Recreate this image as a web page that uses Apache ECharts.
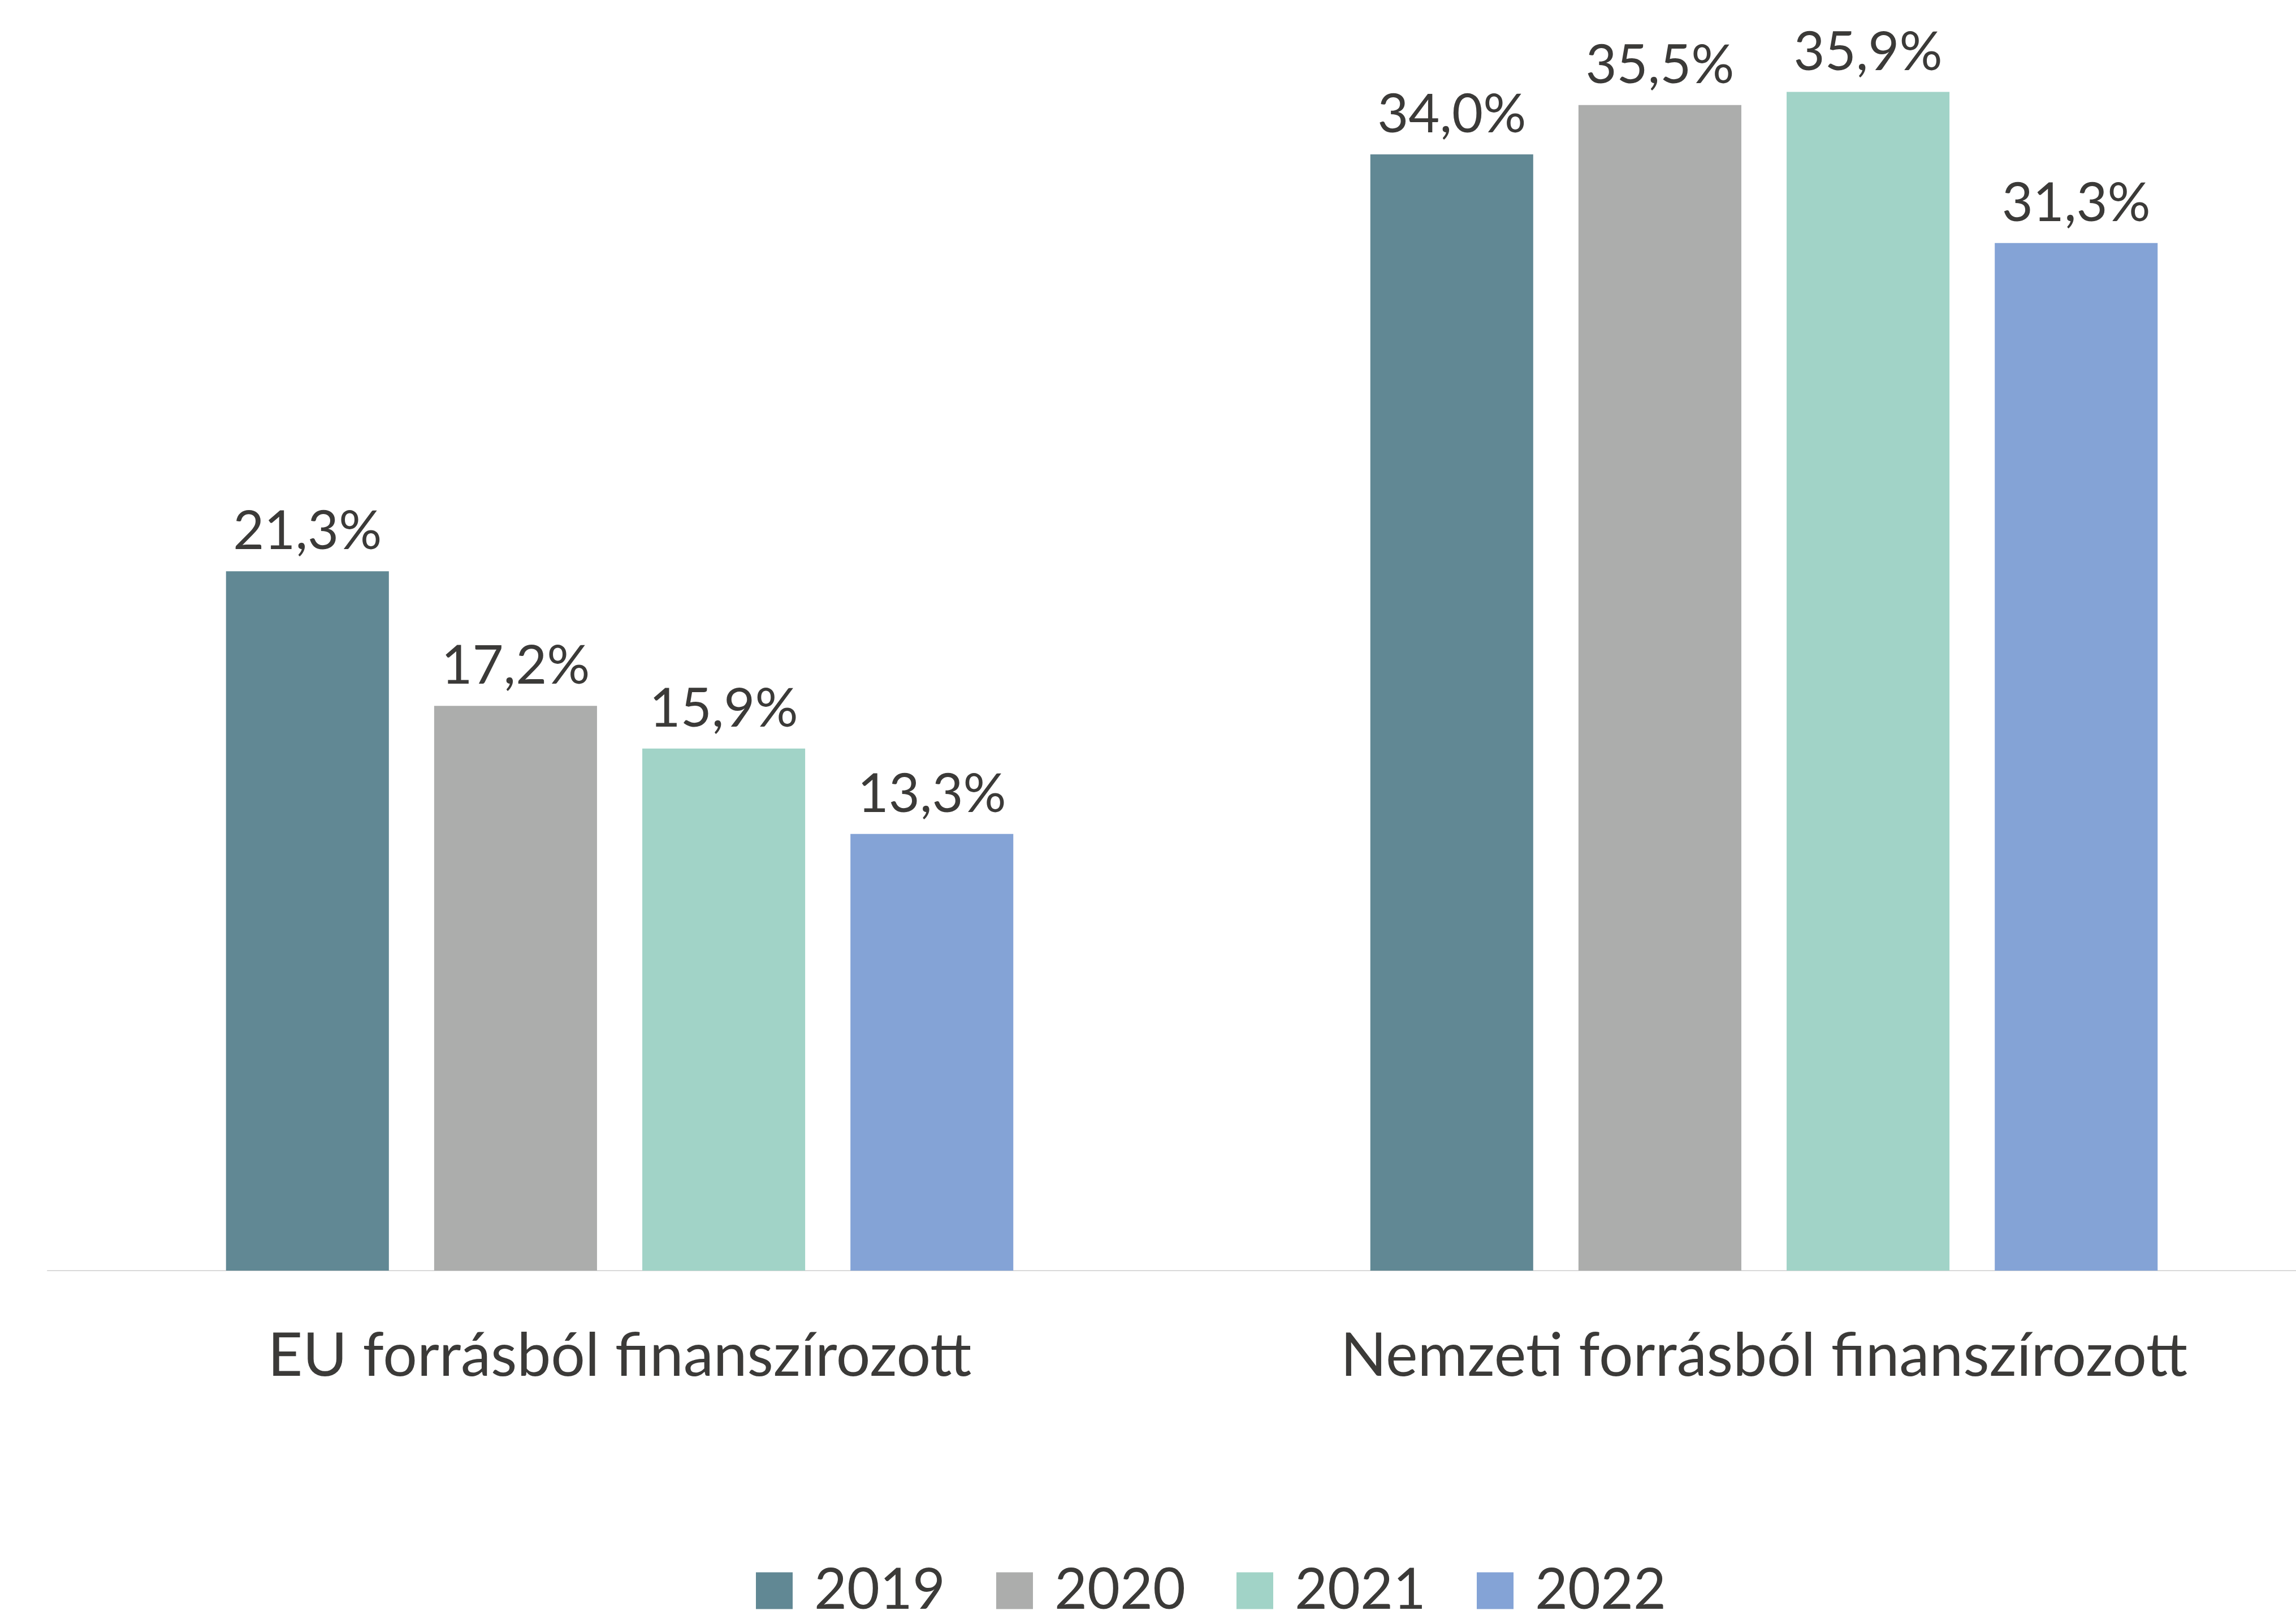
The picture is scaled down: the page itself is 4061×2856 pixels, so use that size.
<!DOCTYPE html>
<html>
<head>
<meta charset="utf-8">
<title>Finanszírozás</title>
<script src="https://cdn.jsdelivr.net/npm/echarts@6/dist/echarts.min.js"></script>
<style>
  html, body { margin: 0; padding: 0; background: #fff; }
  #chart { width: 4061px; height: 2856px; }
</style>
</head>
<body>
<div id="chart"></div>
<script>
// kategóriák és évenkénti értékek (%)
const categories = ['EU forrásból finanszírozott', 'Nemzeti forrásból finanszírozott']
const years = ['2019', '2020', '2021', '2022']
const v2019 = [21.3, 34.0]
const v2020 = [17.2, 35.5]
const v2021 = [15.9, 35.9]
const v2022 = [13.3, 31.3]
const values = [v2019, v2020, v2021, v2022]
const colors = ['#618894', '#acadac', '#a1d3c7', '#84a3d6']

const textColor = '#3b3a38'
const font = 'Lato'

const chart = echarts.init(document.getElementById('chart'))

const series = years.map(function(y, i) {
  return {
    name: y,
    type: 'bar',
    data: values[i],
    barGap: '27.8%',
    barCategoryGap: '31.2%',
    itemStyle: { color: colors[i] },
    label: {
      show: true,
      position: 'top',
      distance: 22,
      color: textColor,
      fontFamily: font,
      fontSize: 95,
      formatter: function(p) {
        return p.value.toFixed(1).replace('.', ',') + '%'
      }
    }
  }
})

const options = {
  animation: false,
  color: colors,
  grid: {
    left: 84,
    right: -71,
    top: 0,
    bottom: 609,
    outerBoundsMode: 'none'
  },
  legend: {
    data: years,
    left: 1332,
    top: 2758,
    icon: 'rect',
    itemWidth: 65,
    itemHeight: 65,
    itemGap: 90,
    textStyle: {
      color: textColor,
      fontFamily: font,
      fontSize: 100,
      padding: [0, 0, 0, 33]
    }
  },
  xAxis: {
    type: 'category',
    data: categories,
    axisLine: {
      lineStyle: { color: '#d9d9d9', width: 2 }
    },
    axisTick: { show: false },
    axisLabel: {
      margin: 98,
      color: textColor,
      fontFamily: font,
      fontSize: 107
    }
  },
  yAxis: {
    type: 'value',
    min: 0,
    max: 38.7,
    show: false,
    splitLine: { show: false }
  },
  series: series
}

chart.setOption(options)
window.addEventListener('resize', function() {
  chart.resize()
})
</script>
</body>
</html>
